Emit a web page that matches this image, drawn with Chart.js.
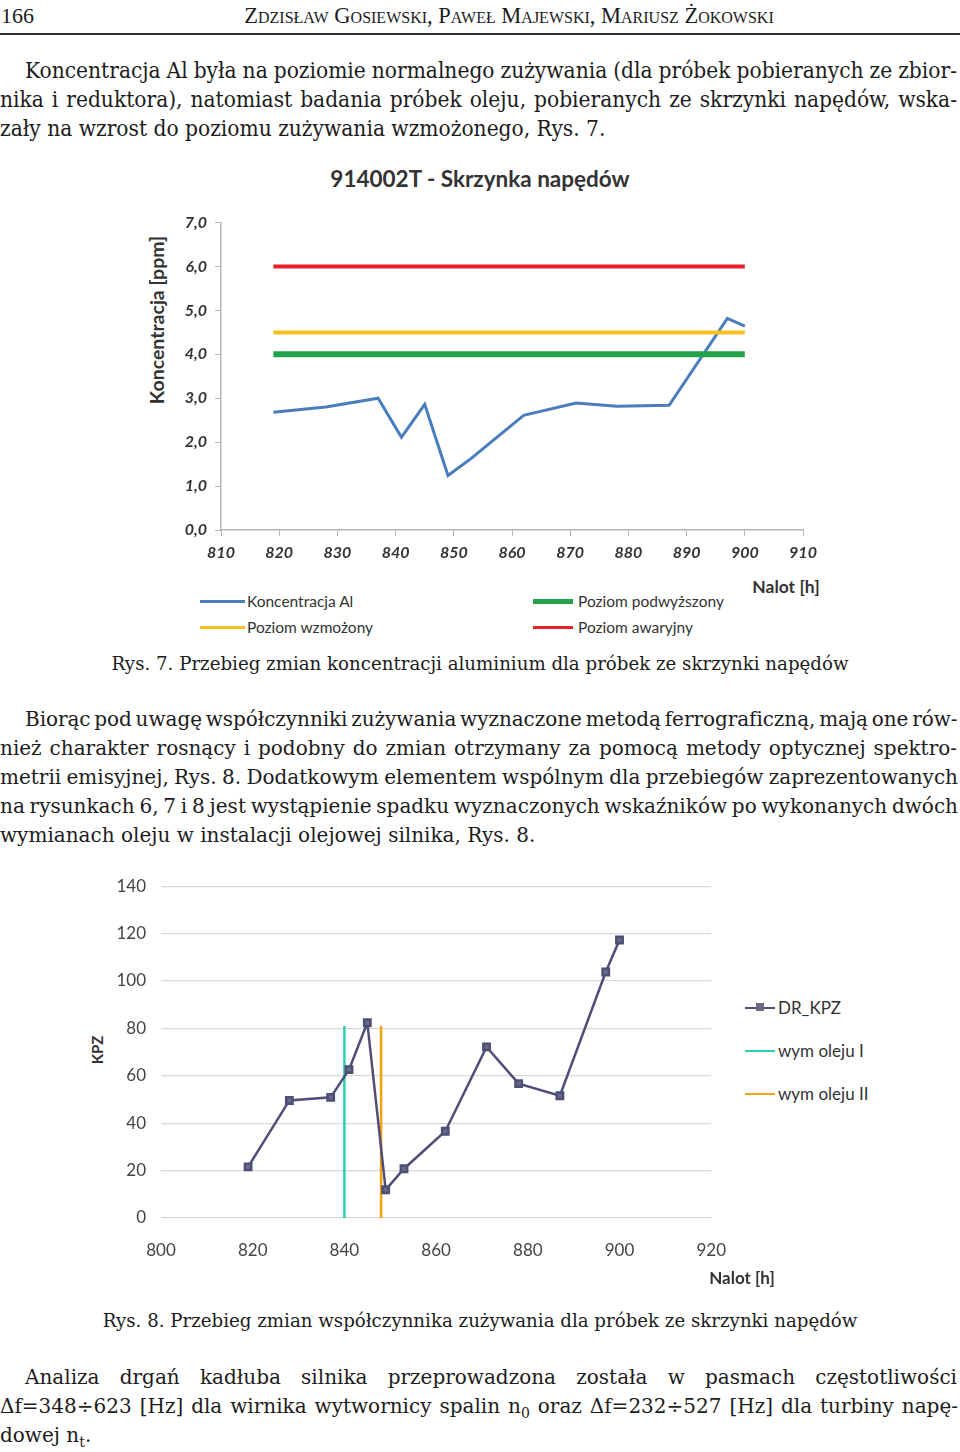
<!DOCTYPE html>
<html lang="pl">
<head>
<meta charset="utf-8">
<script src="https://cdn.jsdelivr.net/npm/chart.js@4.4.1/dist/chart.umd.min.js"></script>
<style>
  html, body { margin: 0; padding: 0; background: #fff; }
  body { width: 960px; height: 1452px; position: relative; overflow: hidden; color: #1c1c1c; }
  .ln { position: absolute; line-height: 29px; height: 29px; white-space: nowrap; }
  .p1 { font-family: 'DejaVu Serif Condensed', 'DejaVu Serif', serif; font-size: 22.5px; }
  .p2 { font-family: 'DejaVu Serif', serif; font-size: 20px; }
  .cap { font-family: 'DejaVu Serif', serif; font-size: 18.2px; text-align: center; left: 0; width: 960px; }
  .sans { position: absolute; font-family: Lato, 'Open Sans', sans-serif; white-space: nowrap; color: #333; line-height: 20px; }
  .key { position: absolute; height: 0; }
  sub { font-size: 70%; line-height: 0; }
  canvas { position: absolute; }
</style>
</head>
<body>

<!-- page header -->
<div class="ln" style="left:1px;top:1px;font-family:'Liberation Serif',serif;font-size:22px">166</div>
<div class="ln" style="left:232px;top:1px;width:554px;text-align:center;font-family:'Liberation Serif',serif;font-size:22.5px;font-variant:small-caps">Zdzisław Gosiewski, Paweł Majewski, Mariusz Żokowski</div>
<div style="position:absolute;left:0;top:33px;width:960px;height:1.5px;background:#333"></div>

<!-- paragraph 1 -->
<div class="ln p1 just" data-w="932" style="left:25px;top:56px">Koncentracja Al była na poziomie normalnego zużywania (dla próbek pobieranych ze zbior-</div>
<div class="ln p1 just" data-w="957" style="left:0;top:85px">nika i reduktora), natomiast badania próbek oleju, pobieranych ze skrzynki napędów, wska-</div>
<div class="ln p1" style="left:0;top:114px">zały na wzrost do poziomu zużywania wzmożonego, Rys. 7.</div>

<!-- figure 7 -->
<div class="sans" style="left:280px;top:169px;width:400px;text-align:center;font-size:22.5px;font-weight:bold">914002T - Skrzynka napędów</div>
<div class="sans" style="left:57px;top:310px;width:200px;text-align:center;font-size:19.5px;font-weight:bold;transform:rotate(-90deg)">Koncentracja [ppm]</div>
<canvas id="c1" width="660" height="365" style="left:170px;top:205px;width:660px;height:365px"></canvas>
<div class="sans" style="left:736px;top:577px;width:100px;text-align:center;font-size:17.5px;font-weight:bold">Nalot [h]</div>
<div class="key" style="left:200px;top:600px;width:45px;border-top:3px solid #4a7dbd"></div>
<div class="sans" style="left:247px;top:591px;font-size:15.5px">Koncentracja Al</div>
<div class="key" style="left:200px;top:626px;width:45px;border-top:3px solid #f7c11e"></div>
<div class="sans" style="left:247px;top:617px;font-size:15.5px">Poziom wzmożony</div>
<div class="key" style="left:533px;top:599px;width:40px;border-top:5px solid #22a34a"></div>
<div class="sans" style="left:578px;top:591px;font-size:15.5px">Poziom podwyższony</div>
<div class="key" style="left:533px;top:626px;width:40px;border-top:3px solid #e8202a"></div>
<div class="sans" style="left:578px;top:617px;font-size:15.5px">Poziom awaryjny</div>
<div class="ln cap" style="top:649px">Rys. 7. Przebieg zmian koncentracji aluminium dla próbek ze skrzynki napędów</div>

<!-- paragraph 2 -->
<div class="ln p2 just" data-w="932" style="left:25px;top:705px">Biorąc pod uwagę współczynniki zużywania wyznaczone metodą ferrograficzną, mają one rów-</div>
<div class="ln p2 just" data-w="957" style="left:0;top:734px">nież charakter rosnący i podobny do zmian otrzymany za pomocą metody optycznej spektro-</div>
<div class="ln p2 just" data-w="958" style="left:0;top:763px">metrii emisyjnej, Rys. 8. Dodatkowym elementem wspólnym dla przebiegów zaprezentowanych</div>
<div class="ln p2 just" data-w="958" style="left:0;top:792px">na rysunkach 6, 7 i 8 jest wystąpienie spadku wyznaczonych wskaźników po wykonanych dwóch</div>
<div class="ln p2" style="left:0;top:821px">wymianach oleju w instalacji olejowej silnika, Rys. 8.</div>

<!-- figure 8 -->
<div class="sans" style="left:47px;top:1040px;width:100px;text-align:center;font-size:15px;font-weight:bold;transform:rotate(-90deg)">KPZ</div>
<canvas id="c2" width="640" height="409" style="left:100px;top:861px;width:640px;height:409px"></canvas>
<div class="key" style="left:745px;top:1007px;width:30px;border-top:2.5px solid #4e4e78"></div>
<div class="key" style="left:756px;top:1003px;width:8px;height:8px;background:#6a6a80"></div>
<div class="sans" style="left:778px;top:998px;font-size:17px">DR_KPZ</div>
<div class="key" style="left:745px;top:1050px;width:30px;border-top:2.5px solid #2ccfb3"></div>
<div class="sans" style="left:778px;top:1041px;font-size:17px">wym oleju I</div>
<div class="key" style="left:745px;top:1093px;width:30px;border-top:2.5px solid #f2a20c"></div>
<div class="sans" style="left:778px;top:1084px;font-size:17px">wym oleju II</div>
<div class="sans" style="left:692px;top:1268px;width:100px;text-align:center;font-size:17px;font-weight:bold">Nalot [h]</div>
<div class="ln cap" style="top:1306px">Rys. 8. Przebieg zmian współczynnika zużywania dla próbek ze skrzynki napędów</div>

<!-- paragraph 3 -->
<div class="ln p2 just" data-w="932" style="left:25px;top:1363px">Analiza drgań kadłuba silnika przeprowadzona została w pasmach częstotliwości</div>
<div class="ln p2 just" data-w="958" style="left:0;top:1392px">Δf=348÷623 [Hz] dla wirnika wytwornicy spalin n<sub>0</sub> oraz Δf=232÷527 [Hz] dla turbiny napę-</div>
<div class="ln p2" style="left:0;top:1421px">dowej n<sub>t</sub>.</div>

<script>
// ---- data ----
// Rys. 7: aluminium concentration in the drive gearbox
const hoursAl = [819, 828, 837, 841, 845, 849, 853, 862, 871, 878, 887, 897, 900];
const alConc = [2.68, 2.80, 3.00, 2.11, 2.86, 1.24, 1.63, 2.61, 2.89, 2.82, 2.84, 4.82, 4.64];
const levelPodwyzszony = 4.0;
const levelWzmozony = 4.5;
const levelAwaryjny = 6.0;

// Rys. 8: wear coefficient DR_KPZ
const hoursKpz = [819, 828, 837, 841, 845, 849, 853, 862, 871, 878, 887, 897, 900];
const kpz = [21.6, 49.6, 50.9, 62.6, 82.4, 11.9, 20.8, 36.6, 72.2, 56.7, 51.6, 103.8, 117.3];
const oilChanges = [840, 848];
const oilChangeTop = 81;

// justify single lines by spreading the spaces (keeps the page's line breaks)
document.querySelectorAll('.just').forEach(el => {
  const target = +el.dataset.w;
  const spaces = (el.textContent.match(/ /g) || []).length;
  const natural = el.getBoundingClientRect().width;
  let ws = (target - natural) / spaces;
  if (ws < -2.5) {
    const chars = el.textContent.length;
    el.style.letterSpacing = ((ws + 2.5) * spaces / chars) + 'px';
    ws = -2.5;
  }
  el.style.wordSpacing = ws + 'px';
});

Chart.defaults.font.family = "Lato, 'Open Sans', sans-serif";

const pts = (xs, ys) => xs.map((x, i) => ({ x: x, y: ys[i] }));
const level = v => [{ x: hoursAl[0], y: v }, { x: hoursAl[hoursAl.length - 1], y: v }];
const vline = x => [{ x: x, y: 0 }, { x: x, y: oilChangeTop }];
const commaFmt = v => v.toFixed(1).replace('.', ',');

const axisGray = '#b5b5b5';
const tickFont1 = { size: 16, style: 'italic', weight: 'bold' };

new Chart(document.getElementById('c1'), {
  type: 'line',
  data: {
    datasets: [
      { label: 'Koncentracja Al', data: pts(hoursAl, alConc), borderColor: '#4a7dbd', borderWidth: 3, pointRadius: 0, order: 4 },
      { label: 'Poziom podwyższony', data: level(levelPodwyzszony), borderColor: '#22a34a', borderWidth: 6, pointRadius: 0, order: 3 },
      { label: 'Poziom wzmożony', data: level(levelWzmozony), borderColor: '#f7c11e', borderWidth: 4, pointRadius: 0, order: 2 },
      { label: 'Poziom awaryjny', data: level(levelAwaryjny), borderColor: '#e8202a', borderWidth: 4, pointRadius: 0, order: 1 }
    ]
  },
  options: {
    responsive: false,
    animation: false,
    layout: { padding: { top: 16, right: 27, left: 0, bottom: 0 } },
    plugins: { legend: { display: false }, tooltip: { enabled: false } },
    scales: {
      x: {
        type: 'linear', min: 810, max: 910,
        ticks: { stepSize: 10, font: tickFont1, color: '#333', padding: 7 },
        grid: { drawOnChartArea: false, drawTicks: true, tickLength: 6, color: axisGray },
        border: { color: axisGray, width: 1.5 },
        afterFit: s => { s.height = 40; }
      },
      y: {
        min: 0, max: 7,
        ticks: { stepSize: 1, callback: commaFmt, font: tickFont1, color: '#333', padding: 8 },
        grid: { drawOnChartArea: false, drawTicks: true, tickLength: 6, color: axisGray },
        border: { color: axisGray, width: 1.5 },
        afterFit: s => { s.width = 51; }
      }
    }
  }
});

new Chart(document.getElementById('c2'), {
  type: 'line',
  data: {
    datasets: [
      {
        label: 'DR_KPZ', data: pts(hoursKpz, kpz), borderColor: '#4e4e78', borderWidth: 2.5,
        pointStyle: 'rect', pointRadius: 4.5, pointBackgroundColor: '#6a6a80', pointBorderColor: '#4e4e78', order: 0
      },
      { label: 'wym oleju I', data: vline(oilChanges[0]), borderColor: '#2ccfb3', borderWidth: 2.5, pointRadius: 0, order: 2 },
      { label: 'wym oleju II', data: vline(oilChanges[1]), borderColor: '#f2a20c', borderWidth: 2.5, pointRadius: 0, order: 1 }
    ]
  },
  options: {
    responsive: false,
    animation: false,
    layout: { padding: { top: 6, right: 23, left: 0, bottom: 0 } },
    plugins: { legend: { display: false }, tooltip: { enabled: false } },
    scales: {
      x: {
        type: 'linear', min: 800, max: 920,
        ticks: { stepSize: 20, font: { size: 17 }, color: '#444', padding: 14 },
        grid: { display: false },
        border: { display: false },
        afterFit: s => { s.height = 52; }
      },
      y: {
        min: 0, max: 140,
        ticks: { stepSize: 20, font: { size: 17 }, color: '#444', padding: 15 },
        grid: { color: '#d9d9d9', lineWidth: 1.2, drawTicks: false },
        border: { display: false },
        afterFit: s => { s.width = 61; }
      }
    }
  }
});
</script>
</body>
</html>
